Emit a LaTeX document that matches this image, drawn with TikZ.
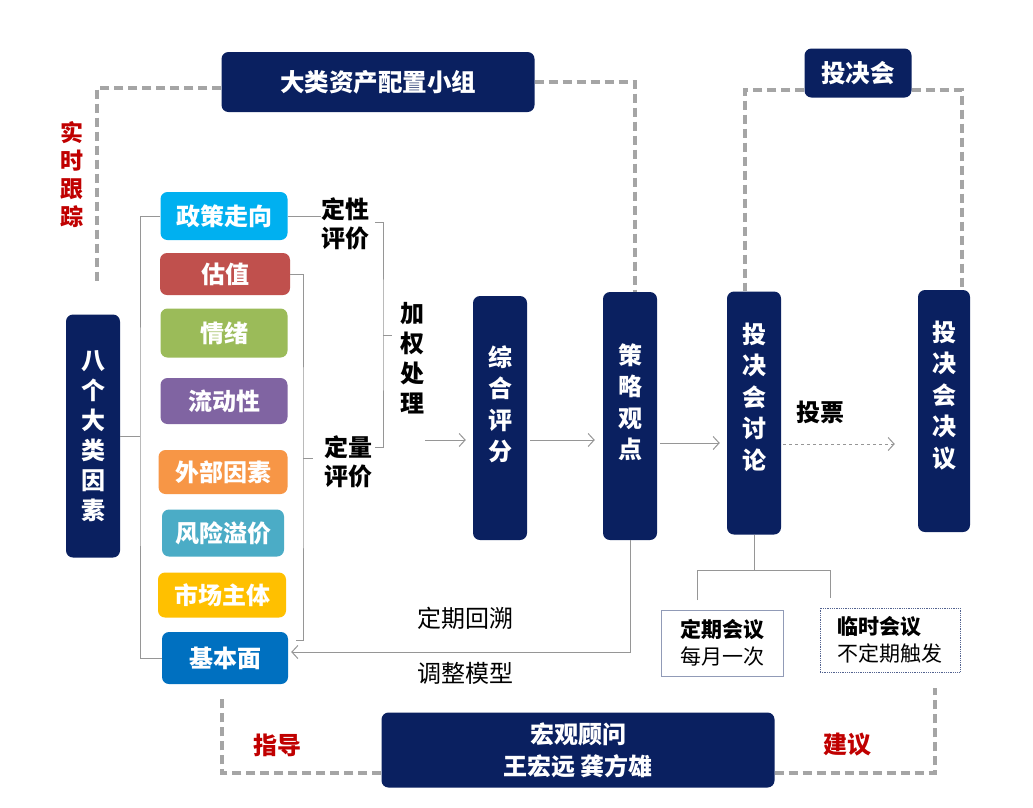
\documentclass[tikz,border=0pt]{standalone}
\usepackage{fontspec}
\setmainfont{Noto Sans CJK SC}
\usetikzlibrary{positioning,arrows.meta}
\definecolor{navy}{RGB}{10,32,96}
\definecolor{cyanf}{RGB}{0,176,240}
\definecolor{redf}{RGB}{192,80,77}
\definecolor{greenf}{RGB}{155,187,89}
\definecolor{purplef}{RGB}{128,100,162}
\definecolor{orangef}{RGB}{247,150,70}
\definecolor{tealf}{RGB}{75,172,198}
\definecolor{goldf}{RGB}{255,192,0}
\definecolor{bluef}{RGB}{0,112,192}
\definecolor{dashg}{RGB}{165,165,165}
\definecolor{labred}{RGB}{192,0,0}
\definecolor{lineg}{RGB}{150,150,150}

\begin{document}
\begin{tikzpicture}[
  x=1pt, y=-1pt,
  navybox/.style={fill=navy, rounded corners=7pt, text=white, align=center, inner sep=0pt,
    font=\bfseries\fontsize{24.5}{30}\selectfont},
  vbox/.style={navybox, minimum width=54pt, font=\bfseries\fontsize{24}{31.5}\selectfont},
  factor/.style={rounded corners=7pt, text=white, inner sep=0pt, minimum width=127pt,
    font=\bfseries\fontsize{24}{28}\selectfont},
  lab/.style={align=center, inner sep=0pt, font=\bfseries\fontsize{24}{29}\selectfont},
  redlab/.style={lab, text=labred},
  plain/.style={inner sep=0pt, font=\fontsize{24}{28}\selectfont},
  meet/.style={fill=white, align=left, inner sep=0pt, font=\fontsize{21}{27}\selectfont},
  dline/.style={dashg, line width=3.2pt, dash pattern=on 9pt off 5pt},
  brace/.style={lineg, line width=0.8pt},
  arr/.style={-{Straight Barb[length=6pt,width=13pt]}, lineg, line width=1pt}
]
\useasboundingbox[fill=white] (0,0) rectangle (1033,807);

% groups on top and bottom
\node[navybox, minimum width=313pt, minimum height=60pt] (grp) at (378,82) {大类资产配置小组};
\node[navybox, minimum width=107pt, minimum height=49pt] (ic) at (858,73) {投决会};
\node[navybox, minimum width=393pt, minimum height=75pt, font=\bfseries\fontsize{24}{32}\selectfont] (adv) at (578,750) {宏观顾问\\王宏远\ 龚方雄};

% the eight factors
\node[vbox, minimum height=243pt, font=\bfseries\fontsize{24}{30}\selectfont] (factors) at (93,436) {八\\个\\大\\类\\因\\素};
\node[factor, fill=cyanf, minimum height=48pt] (f1) at (224,216) {政策走向};
\node[factor, fill=redf, minimum height=42pt, minimum width=130pt] (f2) at (225,274) {估值};
\node[factor, fill=greenf, minimum height=49pt] (f3) at (224,333) {情绪};
\node[factor, fill=purplef, minimum height=46pt] (f4) at (224,401) {流动性};
\node[factor, fill=orangef, minimum height=44pt, minimum width=129pt] (f5) at (223,472) {外部因素};
\node[factor, fill=tealf, minimum height=47pt, minimum width=122pt] (f6) at (223,533) {风险溢价};
\node[factor, fill=goldf, minimum height=45pt, minimum width=128pt] (f7) at (222,595) {市场主体};
\node[factor, fill=bluef, minimum height=52pt, minimum width=126pt] (f8) at (225,658) {基本面};

% labels
\node[redlab, font=\bfseries\fontsize{23}{28}\selectfont] (track) at (72,175) {实\\时\\跟\\踪};
\node[lab] (qual) at (345,224) {定性\\评价};
\node[lab] (quant) at (348,462) {定量\\评价};
\node[lab, font=\bfseries\fontsize{24}{30}\selectfont] (wt) at (412,358) {加\\权\\处\\理};
\node[lab] (vote) at (820,412) {投票};
\node[plain] (back) at (465,618) {定期回溯};
\node[plain] (adj) at (465,673) {调整模型};
\node[redlab] (guide) at (277,745) {指导};
\node[redlab] (sugg) at (847,745) {建议};

% process columns
\node[vbox, minimum height=244pt, text depth=30pt] (score) at (500,418) {综\\合\\评\\分};
\node[vbox, minimum height=248pt, text depth=30pt] (view) at (630,416) {策\\略\\观\\点};
\node[vbox, minimum height=243pt, text depth=34pt] (disc) at (754,413) {投\\决\\会\\讨\\论};
\node[vbox, minimum height=242pt, minimum width=52pt, text depth=34pt] (dec) at (944,411) {投\\决\\会\\决\\议};

% meetings
\node[meet, draw=navy!45, line width=1pt, minimum width=122pt, minimum height=66pt] (meet1) at (722,643)
  {\textbf{定期会议}\\每月一次};
\node[meet, draw=navy!70, line width=0.8pt, densely dotted, minimum width=140pt, minimum height=64pt] (meet2) at (890,640)
  {\textbf{临时会议}\\不定期触发};

% brackets
\coordinate (lb) at (140,436);
\draw[brace] (factors.east) -- (lb);
\draw[brace] (f1.west) -| (lb) |- (f8.west);
\draw[brace] (f1.east) -- (qual.west |- f1.east);
\coordinate (qb) at (383,335);
\draw[brace] (375,222) -| (qb) |- (375,447);
\draw[brace] (qb) -- ++(9,0);
\coordinate (nb) at (303,458);
\draw[brace] (f2.east) -| (nb) |- (296,640);
\draw[brace] (nb) -- ++(10,0);

% flow
\coordinate (wa) at (425,440);
\draw[arr, shorten >=7pt] (wa) -- (score.west |- wa);
\draw[arr, shorten <=3pt, shorten >=8pt] (score.east |- wa) -- (view.west |- wa);
\draw[arr, shorten <=3pt, shorten >=7pt] (view.east |- 0,443) -- (disc.west |- 0,443);
\draw[arr, dashed, shorten <=2pt, shorten >=23pt] (disc.east |- 0,444) -- (dec.west |- 0,444);
\draw[arr, shorten >=3pt] (view.south) |- ([yshift=6pt]f8.east);

\coordinate (mb) at (754,570);
\draw[brace] (disc.south) -- (mb);
\draw[brace] (697,600) |- (mb) -| (830,598);

% dashed links
\draw[dline] ([yshift=-6pt]grp.west) -| (97,285);
\draw[dline] (grp.east) -| ([xshift=5pt]view.north);
\draw[dline] ([yshift=-17pt]ic.west) -| ([xshift=-9pt]disc.north);
\draw[dline] ([yshift=-17pt]ic.east) -| ([xshift=18pt]dec.north);
\draw[dline, shorten >=11pt] ([yshift=-23pt]adv.west) -| ([xshift=-3pt]f8.south);
\draw[dline, shorten >=16pt] ([yshift=-23pt]adv.east) -| ([xshift=45pt]meet2.south);
\end{tikzpicture}
\end{document}
